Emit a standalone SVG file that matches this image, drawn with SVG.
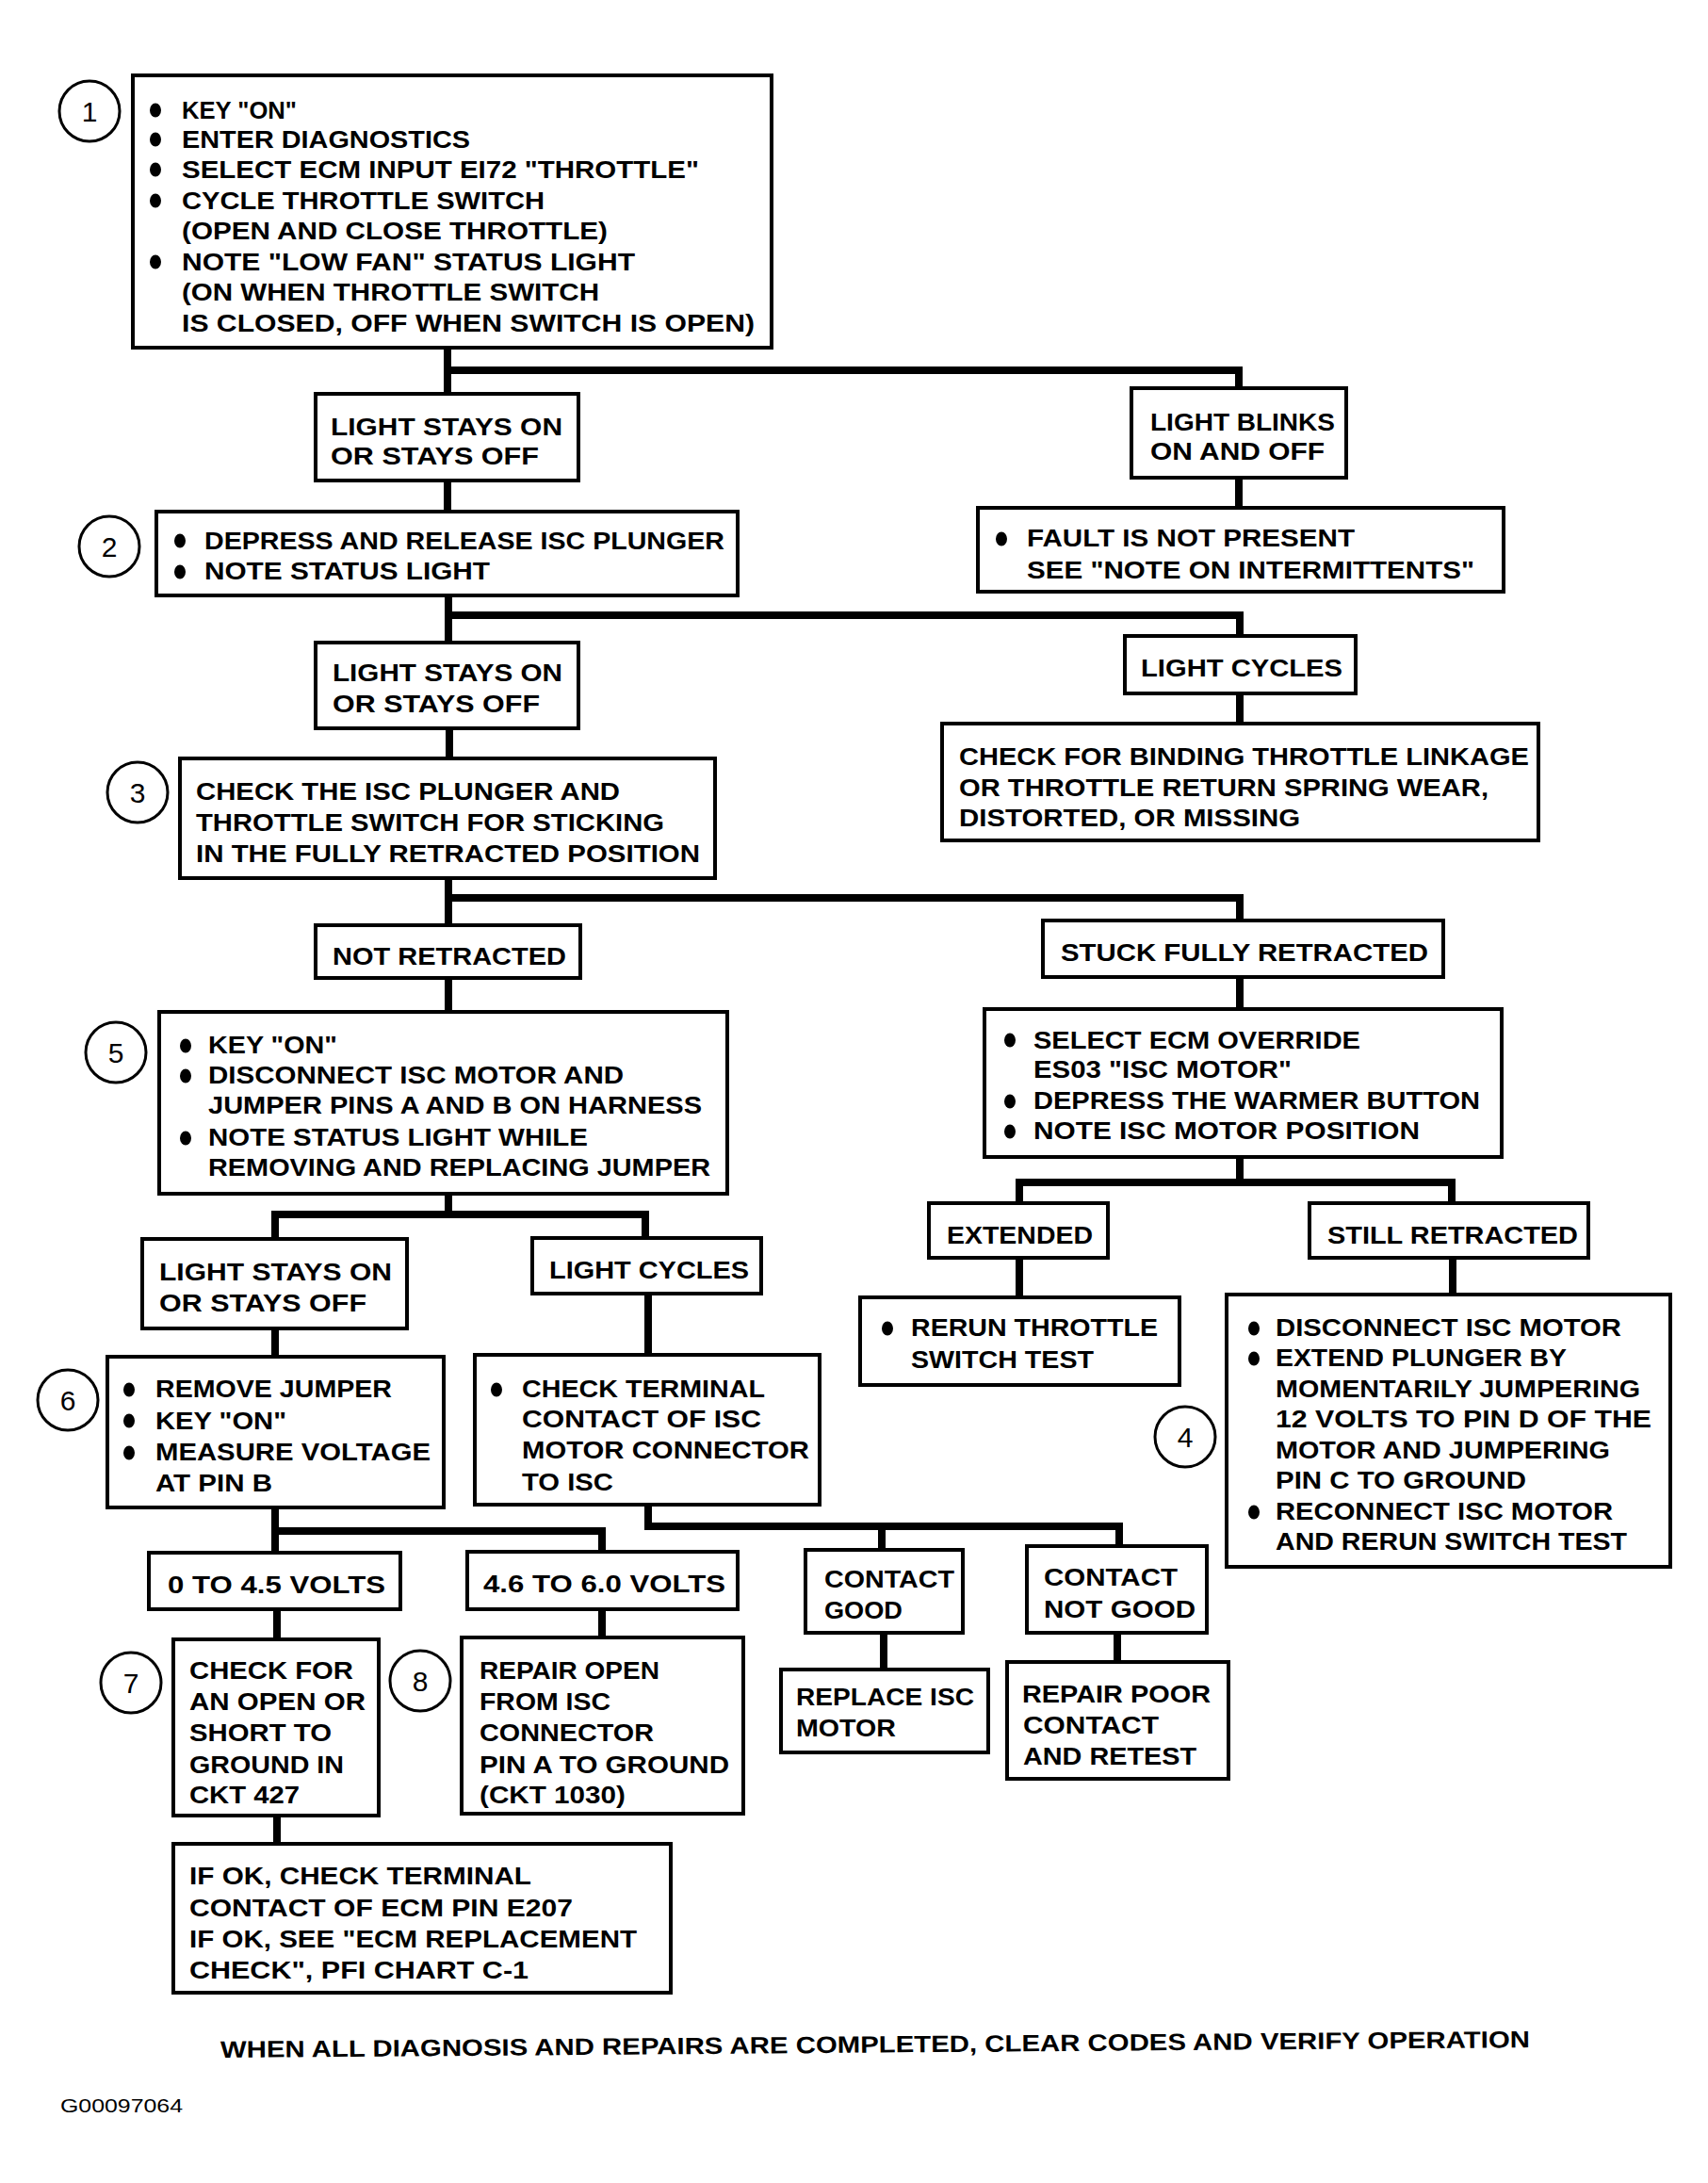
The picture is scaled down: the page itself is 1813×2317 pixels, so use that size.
<svg xmlns="http://www.w3.org/2000/svg" width="1813" height="2317" viewBox="0 0 1813 2317">
<style>
.box{fill:#fff;stroke:#000;stroke-width:4}
.t{font-family:"Liberation Sans",Arial,sans-serif;font-weight:bold;font-size:25px;fill:#000}
.conn{stroke:#000;stroke-width:8;fill:none;stroke-linejoin:miter;stroke-linecap:butt}
.ring{fill:#fff;stroke:#000;stroke-width:3}
.n{font-family:"Liberation Sans",Arial,sans-serif;font-size:30px;text-anchor:middle;fill:#000}
.bul{fill:#000}
.foot{font-family:"Liberation Sans",Arial,sans-serif;font-weight:bold;font-size:25px;fill:#000}
.code{font-family:"Liberation Sans",Arial,sans-serif;font-size:21px;fill:#000}
</style>
<rect width="1813" height="2317" fill="#fff"/>
<g id="connectors">
<path class="conn" d="M475 369 V418 M471 393 H1315 V412"/>
<path class="conn" d="M475 510 V543"/>
<path class="conn" d="M1315 507 V539"/>
<path class="conn" d="M476 632 V682 M472 653 H1316 V675"/>
<path class="conn" d="M1316 736 V768"/>
<path class="conn" d="M477 773 V805"/>
<path class="conn" d="M476 932 V982 M472 953 H1316 V977"/>
<path class="conn" d="M476 1038 V1074"/>
<path class="conn" d="M1316 1037 V1071"/>
<path class="conn" d="M476 1267 V1289 M292 1315 V1289 H685 V1314"/>
<path class="conn" d="M1316 1228 V1255 M1082 1277 V1255 H1541 V1277"/>
<path class="conn" d="M1082 1335 V1377"/>
<path class="conn" d="M1542 1335 V1374"/>
<path class="conn" d="M292 1410 V1440"/>
<path class="conn" d="M688 1373 V1438"/>
<path class="conn" d="M292 1600 V1648 M288 1625 H639 V1647"/>
<path class="conn" d="M688 1597 V1620 H1188 V1641 M936 1620 V1645"/>
<path class="conn" d="M294 1708 V1740"/>
<path class="conn" d="M639 1708 V1738"/>
<path class="conn" d="M938 1733 V1772"/>
<path class="conn" d="M1186 1733 V1764"/>
<path class="conn" d="M294 1927 V1957"/>
</g>

<g id="step1">
<circle class="ring" cx="95" cy="118" r="32"/><text class="n" x="95" y="129">1</text>
<rect class="box" x="141" y="80" width="678" height="289"/>
<ellipse class="bul" cx="165" cy="117" rx="6" ry="7.5"/>
<ellipse class="bul" cx="165" cy="148" rx="6" ry="7.5"/>
<ellipse class="bul" cx="165" cy="180" rx="6" ry="7.5"/>
<ellipse class="bul" cx="165" cy="213" rx="6" ry="7.5"/>
<ellipse class="bul" cx="165" cy="278" rx="6" ry="7.5"/>
<text class="t" x="193" y="126" textLength="122" lengthAdjust="spacingAndGlyphs">KEY "ON"</text>
<text class="t" x="193" y="157" textLength="306" lengthAdjust="spacingAndGlyphs">ENTER DIAGNOSTICS</text>
<text class="t" x="193" y="189" textLength="549" lengthAdjust="spacingAndGlyphs">SELECT ECM INPUT EI72 "THROTTLE"</text>
<text class="t" x="193" y="222" textLength="385" lengthAdjust="spacingAndGlyphs">CYCLE THROTTLE SWITCH</text>
<text class="t" x="193" y="254" textLength="452" lengthAdjust="spacingAndGlyphs">(OPEN AND CLOSE THROTTLE)</text>
<text class="t" x="193" y="287" textLength="481" lengthAdjust="spacingAndGlyphs">NOTE "LOW FAN" STATUS LIGHT</text>
<text class="t" x="193" y="319" textLength="443" lengthAdjust="spacingAndGlyphs">(ON WHEN THROTTLE SWITCH</text>
<text class="t" x="193" y="352" textLength="608" lengthAdjust="spacingAndGlyphs">IS CLOSED, OFF WHEN SWITCH  IS OPEN)</text>
</g>

<g id="light-stays-1">
<rect class="box" x="335" y="418" width="279" height="92"/>
<text class="t" x="351" y="462" textLength="246" lengthAdjust="spacingAndGlyphs">LIGHT STAYS ON</text>
<text class="t" x="351" y="493" textLength="221" lengthAdjust="spacingAndGlyphs">OR STAYS OFF</text>
</g>

<g id="light-blinks">
<rect class="box" x="1201" y="412" width="228" height="95"/>
<text class="t" x="1221" y="457" textLength="196" lengthAdjust="spacingAndGlyphs">LIGHT BLINKS</text>
<text class="t" x="1221" y="488" textLength="185" lengthAdjust="spacingAndGlyphs">ON AND OFF</text>
</g>

<g id="step2">
<circle class="ring" cx="116" cy="580" r="32"/><text class="n" x="116" y="591">2</text>
<rect class="box" x="166" y="543" width="617" height="89"/>
<ellipse class="bul" cx="191" cy="574" rx="6" ry="7.5"/>
<ellipse class="bul" cx="191" cy="607" rx="6" ry="7.5"/>
<text class="t" x="217" y="583" textLength="552" lengthAdjust="spacingAndGlyphs">DEPRESS AND RELEASE ISC PLUNGER</text>
<text class="t" x="217" y="615" textLength="303" lengthAdjust="spacingAndGlyphs">NOTE STATUS LIGHT</text>
</g>

<g id="fault-not-present">
<rect class="box" x="1038" y="539" width="558" height="89"/>
<ellipse class="bul" cx="1063" cy="572" rx="6" ry="7.5"/>
<text class="t" x="1090" y="580" textLength="348" lengthAdjust="spacingAndGlyphs">FAULT IS NOT PRESENT</text>
<text class="t" x="1090" y="614" textLength="475" lengthAdjust="spacingAndGlyphs">SEE "NOTE ON INTERMITTENTS"</text>
</g>

<g id="light-stays-2">
<rect class="box" x="335" y="682" width="279" height="91"/>
<text class="t" x="353" y="723" textLength="244" lengthAdjust="spacingAndGlyphs">LIGHT STAYS ON</text>
<text class="t" x="353" y="756" textLength="220" lengthAdjust="spacingAndGlyphs">OR STAYS OFF</text>
</g>

<g id="light-cycles-1">
<rect class="box" x="1194" y="675" width="245" height="61"/>
<text class="t" x="1211" y="718" textLength="214" lengthAdjust="spacingAndGlyphs">LIGHT CYCLES</text>
</g>

<g id="check-binding">
<rect class="box" x="1000" y="768" width="633" height="124"/>
<text class="t" x="1018" y="812" textLength="605" lengthAdjust="spacingAndGlyphs">CHECK FOR BINDING THROTTLE LINKAGE</text>
<text class="t" x="1018" y="845" textLength="562" lengthAdjust="spacingAndGlyphs">OR THROTTLE RETURN SPRING WEAR,</text>
<text class="t" x="1018" y="877" textLength="362" lengthAdjust="spacingAndGlyphs">DISTORTED, OR MISSING</text>
</g>

<g id="step3">
<circle class="ring" cx="146" cy="841" r="32"/><text class="n" x="146" y="852">3</text>
<rect class="box" x="191" y="805" width="568" height="127"/>
<text class="t" x="208" y="849" textLength="450" lengthAdjust="spacingAndGlyphs">CHECK THE ISC PLUNGER AND</text>
<text class="t" x="208" y="882" textLength="497" lengthAdjust="spacingAndGlyphs">THROTTLE SWITCH FOR STICKING</text>
<text class="t" x="208" y="915" textLength="535" lengthAdjust="spacingAndGlyphs">IN THE FULLY RETRACTED POSITION</text>
</g>

<g id="not-retracted">
<rect class="box" x="335" y="982" width="281" height="56"/>
<text class="t" x="353" y="1024" textLength="248" lengthAdjust="spacingAndGlyphs">NOT RETRACTED</text>
</g>

<g id="stuck-retracted">
<rect class="box" x="1107" y="977" width="425" height="60"/>
<text class="t" x="1126" y="1020" textLength="390" lengthAdjust="spacingAndGlyphs">STUCK FULLY RETRACTED</text>
</g>

<g id="step5">
<circle class="ring" cx="123" cy="1117" r="32"/><text class="n" x="123" y="1128">5</text>
<rect class="box" x="169" y="1074" width="603" height="193"/>
<ellipse class="bul" cx="197" cy="1110" rx="6" ry="7.5"/>
<ellipse class="bul" cx="197" cy="1142" rx="6" ry="7.5"/>
<ellipse class="bul" cx="197" cy="1208" rx="6" ry="7.5"/>
<text class="t" x="221" y="1118" textLength="137" lengthAdjust="spacingAndGlyphs">KEY "ON"</text>
<text class="t" x="221" y="1150" textLength="441" lengthAdjust="spacingAndGlyphs">DISCONNECT ISC MOTOR AND</text>
<text class="t" x="221" y="1182" textLength="524" lengthAdjust="spacingAndGlyphs">JUMPER PINS A AND B ON HARNESS</text>
<text class="t" x="221" y="1216" textLength="403" lengthAdjust="spacingAndGlyphs">NOTE STATUS LIGHT WHILE</text>
<text class="t" x="221" y="1248" textLength="533" lengthAdjust="spacingAndGlyphs">REMOVING AND REPLACING JUMPER</text>
</g>

<g id="ecm-override">
<rect class="box" x="1045" y="1071" width="549" height="157"/>
<ellipse class="bul" cx="1072" cy="1104" rx="6" ry="7.5"/>
<ellipse class="bul" cx="1072" cy="1169" rx="6" ry="7.5"/>
<ellipse class="bul" cx="1072" cy="1201" rx="6" ry="7.5"/>
<text class="t" x="1097" y="1113" textLength="347" lengthAdjust="spacingAndGlyphs">SELECT ECM OVERRIDE</text>
<text class="t" x="1097" y="1144" textLength="274" lengthAdjust="spacingAndGlyphs">ES03 "ISC MOTOR"</text>
<text class="t" x="1097" y="1177" textLength="474" lengthAdjust="spacingAndGlyphs">DEPRESS THE WARMER BUTTON</text>
<text class="t" x="1097" y="1209" textLength="410" lengthAdjust="spacingAndGlyphs">NOTE ISC MOTOR POSITION</text>
</g>

<g id="extended">
<rect class="box" x="986" y="1277" width="190" height="58"/>
<text class="t" x="1005" y="1320" textLength="155" lengthAdjust="spacingAndGlyphs">EXTENDED</text>
</g>

<g id="still-retracted">
<rect class="box" x="1390" y="1277" width="296" height="58"/>
<text class="t" x="1409" y="1320" textLength="266" lengthAdjust="spacingAndGlyphs">STILL RETRACTED</text>
</g>

<g id="light-stays-3">
<rect class="box" x="151" y="1315" width="281" height="95"/>
<text class="t" x="169" y="1359" textLength="247" lengthAdjust="spacingAndGlyphs">LIGHT STAYS ON</text>
<text class="t" x="169" y="1392" textLength="220" lengthAdjust="spacingAndGlyphs">OR STAYS OFF</text>
</g>

<g id="light-cycles-2">
<rect class="box" x="565" y="1314" width="243" height="59"/>
<text class="t" x="583" y="1357" textLength="212" lengthAdjust="spacingAndGlyphs">LIGHT CYCLES</text>
</g>

<g id="rerun-switch-test">
<rect class="box" x="913" y="1377" width="339" height="93"/>
<ellipse class="bul" cx="942" cy="1410" rx="6" ry="7.5"/>
<text class="t" x="967" y="1418" textLength="262" lengthAdjust="spacingAndGlyphs">RERUN THROTTLE</text>
<text class="t" x="967" y="1452" textLength="194" lengthAdjust="spacingAndGlyphs">SWITCH TEST</text>
</g>

<g id="step4">
<circle class="ring" cx="1258" cy="1525" r="32"/><text class="n" x="1258" y="1536">4</text>
<rect class="box" x="1302" y="1374" width="471" height="289"/>
<ellipse class="bul" cx="1331" cy="1410" rx="6" ry="7.5"/>
<ellipse class="bul" cx="1331" cy="1442" rx="6" ry="7.5"/>
<ellipse class="bul" cx="1331" cy="1605" rx="6" ry="7.5"/>
<text class="t" x="1354" y="1418" textLength="367" lengthAdjust="spacingAndGlyphs">DISCONNECT ISC MOTOR</text>
<text class="t" x="1354" y="1450" textLength="309" lengthAdjust="spacingAndGlyphs">EXTEND PLUNGER BY</text>
<text class="t" x="1354" y="1483" textLength="387" lengthAdjust="spacingAndGlyphs">MOMENTARILY JUMPERING</text>
<text class="t" x="1354" y="1515" textLength="399" lengthAdjust="spacingAndGlyphs">12 VOLTS TO PIN D OF THE</text>
<text class="t" x="1354" y="1548" textLength="355" lengthAdjust="spacingAndGlyphs">MOTOR AND JUMPERING</text>
<text class="t" x="1354" y="1580" textLength="266" lengthAdjust="spacingAndGlyphs">PIN C TO GROUND</text>
<text class="t" x="1354" y="1613" textLength="358" lengthAdjust="spacingAndGlyphs">RECONNECT ISC MOTOR</text>
<text class="t" x="1354" y="1645" textLength="373" lengthAdjust="spacingAndGlyphs">AND RERUN SWITCH TEST</text>
</g>

<g id="step6">
<circle class="ring" cx="72" cy="1486" r="32"/><text class="n" x="72" y="1497">6</text>
<rect class="box" x="114" y="1440" width="357" height="160"/>
<ellipse class="bul" cx="137" cy="1475" rx="6" ry="7.5"/>
<ellipse class="bul" cx="137" cy="1508" rx="6" ry="7.5"/>
<ellipse class="bul" cx="137" cy="1542" rx="6" ry="7.5"/>
<text class="t" x="165" y="1483" textLength="251" lengthAdjust="spacingAndGlyphs">REMOVE JUMPER</text>
<text class="t" x="165" y="1517" textLength="139" lengthAdjust="spacingAndGlyphs">KEY "ON"</text>
<text class="t" x="165" y="1550" textLength="292" lengthAdjust="spacingAndGlyphs">MEASURE VOLTAGE</text>
<text class="t" x="165" y="1583" textLength="124" lengthAdjust="spacingAndGlyphs">AT PIN B</text>
</g>

<g id="check-terminal">
<rect class="box" x="504" y="1438" width="366" height="159"/>
<ellipse class="bul" cx="527" cy="1475" rx="6" ry="7.5"/>
<text class="t" x="554" y="1483" textLength="258" lengthAdjust="spacingAndGlyphs">CHECK TERMINAL</text>
<text class="t" x="554" y="1515" textLength="254" lengthAdjust="spacingAndGlyphs">CONTACT OF ISC</text>
<text class="t" x="554" y="1548" textLength="305" lengthAdjust="spacingAndGlyphs">MOTOR CONNECTOR</text>
<text class="t" x="554" y="1582" textLength="97" lengthAdjust="spacingAndGlyphs">TO ISC</text>
</g>

<g id="volts-low">
<rect class="box" x="158" y="1648" width="267" height="60"/>
<text class="t" x="178" y="1691" textLength="231" lengthAdjust="spacingAndGlyphs">0 TO 4.5 VOLTS</text>
</g>

<g id="volts-high">
<rect class="box" x="496" y="1647" width="287" height="61"/>
<text class="t" x="513" y="1690" textLength="257" lengthAdjust="spacingAndGlyphs">4.6 TO 6.0 VOLTS</text>
</g>

<g id="contact-good">
<rect class="box" x="855" y="1645" width="167" height="88"/>
<text class="t" x="875" y="1685" textLength="138" lengthAdjust="spacingAndGlyphs">CONTACT</text>
<text class="t" x="875" y="1718" textLength="83" lengthAdjust="spacingAndGlyphs">GOOD</text>
</g>

<g id="contact-not-good">
<rect class="box" x="1090" y="1641" width="191" height="92"/>
<text class="t" x="1108" y="1683" textLength="142" lengthAdjust="spacingAndGlyphs">CONTACT</text>
<text class="t" x="1108" y="1717" textLength="161" lengthAdjust="spacingAndGlyphs">NOT GOOD</text>
</g>

<g id="step7">
<circle class="ring" cx="139" cy="1786" r="32"/><text class="n" x="139" y="1797">7</text>
<rect class="box" x="184" y="1740" width="218" height="187"/>
<text class="t" x="201" y="1782" textLength="174" lengthAdjust="spacingAndGlyphs">CHECK FOR</text>
<text class="t" x="201" y="1815" textLength="187" lengthAdjust="spacingAndGlyphs">AN OPEN OR</text>
<text class="t" x="201" y="1848" textLength="151" lengthAdjust="spacingAndGlyphs">SHORT TO</text>
<text class="t" x="201" y="1882" textLength="164" lengthAdjust="spacingAndGlyphs">GROUND IN</text>
<text class="t" x="201" y="1914" textLength="117" lengthAdjust="spacingAndGlyphs">CKT 427</text>
</g>

<g id="step8">
<circle class="ring" cx="446" cy="1784" r="32"/><text class="n" x="446" y="1795">8</text>
<rect class="box" x="490" y="1738" width="299" height="187"/>
<text class="t" x="509" y="1782" textLength="191" lengthAdjust="spacingAndGlyphs">REPAIR OPEN</text>
<text class="t" x="509" y="1815" textLength="139" lengthAdjust="spacingAndGlyphs">FROM ISC</text>
<text class="t" x="509" y="1848" textLength="185" lengthAdjust="spacingAndGlyphs">CONNECTOR</text>
<text class="t" x="509" y="1882" textLength="265" lengthAdjust="spacingAndGlyphs">PIN A TO GROUND</text>
<text class="t" x="509" y="1914" textLength="155" lengthAdjust="spacingAndGlyphs">(CKT 1030)</text>
</g>

<g id="replace-isc-motor">
<rect class="box" x="829" y="1772" width="220" height="88"/>
<text class="t" x="845" y="1810" textLength="189" lengthAdjust="spacingAndGlyphs">REPLACE ISC</text>
<text class="t" x="845" y="1843" textLength="106" lengthAdjust="spacingAndGlyphs">MOTOR</text>
</g>

<g id="repair-poor-contact">
<rect class="box" x="1069" y="1764" width="235" height="124"/>
<text class="t" x="1085" y="1807" textLength="200" lengthAdjust="spacingAndGlyphs">REPAIR POOR</text>
<text class="t" x="1086" y="1840" textLength="144" lengthAdjust="spacingAndGlyphs">CONTACT</text>
<text class="t" x="1086" y="1873" textLength="184" lengthAdjust="spacingAndGlyphs">AND RETEST</text>
</g>

<g id="if-ok">
<rect class="box" x="184" y="1957" width="528" height="158"/>
<text class="t" x="201" y="2000" textLength="363" lengthAdjust="spacingAndGlyphs">IF OK, CHECK TERMINAL</text>
<text class="t" x="201" y="2034" textLength="407" lengthAdjust="spacingAndGlyphs">CONTACT OF ECM PIN E207</text>
<text class="t" x="201" y="2067" textLength="475" lengthAdjust="spacingAndGlyphs">IF OK, SEE "ECM REPLACEMENT</text>
<text class="t" x="201" y="2100" textLength="360" lengthAdjust="spacingAndGlyphs">CHECK", PFI CHART C-1</text>
</g>

<g id="footer">
<text class="foot" x="234" y="2184" transform="rotate(-0.45 234 2184)" textLength="1390" lengthAdjust="spacingAndGlyphs">WHEN ALL DIAGNOSIS AND REPAIRS ARE COMPLETED, CLEAR CODES AND VERIFY OPERATION</text>
<text class="code" x="64" y="2242" textLength="130" lengthAdjust="spacingAndGlyphs">G00097064</text>
</g>
</svg>
